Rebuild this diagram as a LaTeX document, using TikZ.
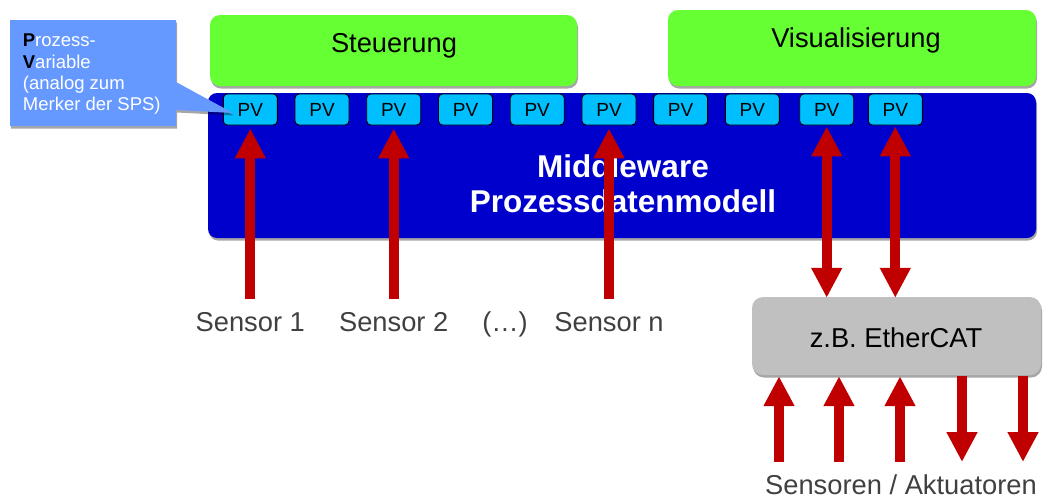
\documentclass[tikz,border=0pt]{standalone}
\usepackage{fontspec}
\setmainfont{Liberation Sans}
\usetikzlibrary{arrows.meta,shadows}
\definecolor{boxgreen}{RGB}{102,255,51}
\definecolor{mwblue}{RGB}{0,0,204}
\definecolor{pvblue}{RGB}{0,191,255}
\definecolor{callblue}{RGB}{102,153,255}
\definecolor{arrred}{RGB}{192,0,0}
\definecolor{boxgray}{RGB}{192,192,192}
\definecolor{txtgray}{RGB}{64,64,64}
\newcommand\myfs[2]{\fontsize{#1}{#2}\selectfont}
\begin{document}
\begin{tikzpicture}[x=1pt,y=-1pt,
  shad/.style={drop shadow={shadow xshift=1pt,shadow yshift=-2.5pt,opacity=0.35,fill=black}},
  topbox/.style={fill=boxgreen, rounded corners=10pt, inner sep=0, shad},
  mwbox/.style={fill=mwblue, rounded corners=9pt, inner sep=0, shad},
  ethbox/.style={fill=boxgray, rounded corners=11pt, inner sep=0, shad},
  pvbox/.style={fill=pvblue, draw=black, line width=0.9pt, rounded corners=4pt,
    minimum width=54pt, minimum height=31pt, inner sep=0, font=\myfs{19}{19}},
  lbl/.style={anchor=base, inner sep=0, font=\myfs{27.3}{27}},
  sens/.style={lbl, text=txtgray},
  redarr/.style={draw=arrred, line width=10pt, -{Triangle[width=29pt,length=30pt]}},
  dblarr/.style={draw=arrred, line width=10pt, {Triangle[width=29pt,length=30pt]}-{Triangle[width=29pt,length=30pt]}}
]
\useasboundingbox (0,0) rectangle (1045,499);

% top boxes
\node[topbox, minimum width=367pt, minimum height=71pt] (steu) at (393.5,50.5) {};
\node[topbox, minimum width=368pt, minimum height=76pt] (visu) at (852,48) {};
\node[lbl] (steut) at (394,52) {Steuerung};
\node[lbl] (visut) at (856,47) {Visualisierung};

% middleware
\node[mwbox, minimum width=828pt, minimum height=145pt] (mw) at (622,165.5) {};
\node[anchor=north, inner sep=0, align=center, text=white,
  font=\myfs{31.5}{35.5}\bfseries] (mwt) at (623,154) {Middleware\\Prozessdatenmodell};

% PV boxes
\foreach \i/\x in {1/250.3,2/322,3/393.7,4/465.5,5/537.2,6/609,7/680.6,8/752.3,9/826.7,10/895.3}
  \node[pvbox] (pv\i) at (\x,109.5) {PV};

% EtherCAT
\node[ethbox, minimum width=289pt, minimum height=78pt] (eth) at (896.5,336) {};
\node[lbl] (etht) at (896,347) {z.B. EtherCAT};

% sensor labels
\node[sens] (s1) at (250.3,331) {Sensor 1};
\node[sens] (s2) at (393.7,331) {Sensor 2};
\node[sens] (sd) at (505,331) {(…)};
\node[sens] (sn) at (609,331) {Sensor n};
\node[sens] (sa) at (901,494) {Sensoren / Aktuatoren};

% arrows sensors -> PV
\draw[redarr, shorten <=12.3pt, shorten >=3pt] (s1.north) -- (pv1.south);
\draw[redarr, shorten <=12.3pt, shorten >=3pt] (s2.north) -- (pv3.south);
\draw[redarr, shorten <=12.3pt, shorten >=3pt] (sn.north) -- (pv6.south);

% double arrows PV <-> EtherCAT
\draw[dblarr, shorten <=1pt, shorten >=-1pt] (pv9.south) -- (pv9.south |- eth.north);
\draw[dblarr, shorten <=1pt, shorten >=-1pt] (pv10.south) -- (pv10.south |- eth.north);

% bottom arrows
\coordinate (b1) at (779,462);
\coordinate (b2) at (839,462);
\coordinate (b3) at (900,462);
\coordinate (b4) at (962,462);
\coordinate (b5) at (1023,462);
\draw[redarr, shorten >=1pt] (b1) -- (b1 |- eth.south);
\draw[redarr, shorten >=1pt] (b2) -- (b2 |- eth.south);
\draw[redarr, shorten >=1pt] (b3) -- (b3 |- eth.south);
\draw[redarr, shorten <=1pt] (b4 |- eth.south) -- (b4);
\draw[redarr, shorten <=1pt] (b5 |- eth.south) -- (b5);

% callout
\path[fill=callblue, shad] (10,20) -- (176,20) -- (176,82) -- (233,113) -- (176,110)
  -- (176,126) -- (10,126) -- cycle;
\node[anchor=north west, inner sep=0, align=left, text=white,
  font=\myfs{18.5}{21.2}] (ct) at (22.7,34) {{\color{black}\textbf{P}}rozess-\\{\color{black}\textbf{V}}ariable\\(analog zum\\Merker der SPS)};
\end{tikzpicture}
\end{document}
